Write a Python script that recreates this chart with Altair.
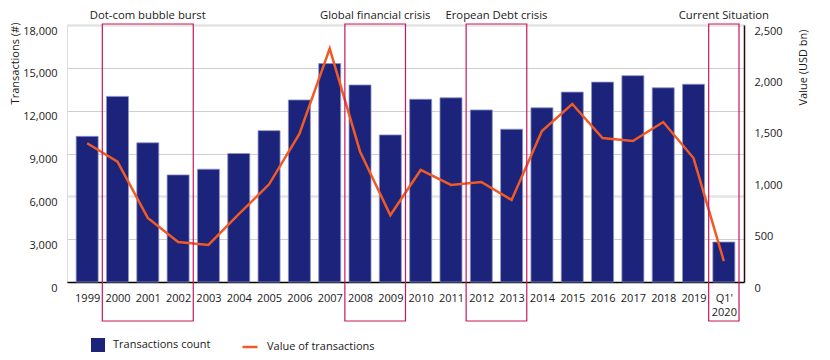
import altair as alt
import pandas as pd

categories = ["1999", "2000", "2001", "2002", "2003", "2004", "2005", "2006", "2007", "2008",
              "2009", "2010", "2011", "2012", "2013", "2014", "2015", "2016", "2017", "2018",
              "2019", "Q1' 2020"]
transactions = [10200, 13000, 9750, 7500, 7900, 9000, 10600, 12750, 15300, 13800,
                10300, 12800, 12900, 12050, 10700, 12200, 13300, 14000, 14450, 13600,
                13850, 2800]
values_usd = [1350, 1170, 623, 389, 360, 660, 950, 1440, 2270, 1270,
              650, 1090, 944, 973, 798, 1469, 1732, 1401, 1372, 1556,
              1206, 204]
crisis_labels = ["Dot-com bubble burst", "Global financial crisis", "Eropean Debt crisis", "Current Situation"]
crisis_start = ["2000", "2008", "2012", "Q1' 2020"]
crisis_end = ["2002", "2009", "2013", "Q1' 2020"]

FONT = "Open Sans"
NAVY = "#1b237a"
ORANGE = "#f15a24"
CRIMSON = "#c8175d"

df = pd.DataFrame({
    "i": list(range(len(categories))),
    "cat": categories,
    "count": transactions,
    "value": values_usd,
    "s1": "Transactions count",
    "s2": "Value of transactions",
})

idx = {c: k for k, c in enumerate(categories)}
boxes = pd.DataFrame({
    "label": crisis_labels,
    "x0": [idx[s] - 0.5 for s in crisis_start],
    "x1": [idx[e] + 0.5 for e in crisis_end],
})
boxes["mid"] = (boxes["x0"] + boxes["x1"]) / 2

label_js = "[" + ",".join("'" + c.replace("'", "\\'") + "'" for c in categories) + "]"
label_expr = (f"datum.value == {len(categories) - 1} ? [\"Q1'\", '2020'] : "
              f"{label_js}[datum.value]")

xscale = alt.Scale(domain=[-0.5, len(categories) - 0.5], nice=False, zero=False)
xaxis = alt.Axis(values=list(range(len(categories))), labelExpr=label_expr, title=None,
                 grid=False, ticks=False, domain=True, domainColor="#000000", domainWidth=1.5,
                 labelPadding=10, labelBaseline="top", labelFont=FONT, labelFontSize=11,
                 labelColor="#1a1a1a", labelLineHeight=14, labelOverlap=False,
                 labelBound=False, labelFlush=False)

grid_width = {"condition": {"test": "datum.value == 18000 || datum.value == 6000", "value": 2.5}, "value": 1}
grid_color = {"condition": {"test": "datum.value == 18000 || datum.value == 6000", "value": "#e4e4e4"}, "value": "#cfcfcf"}

bars = alt.Chart(df).mark_bar(width=22, stroke="#8e92c8", strokeWidth=0.8).encode(
    x=alt.X("i:Q", scale=xscale, axis=xaxis),
    y=alt.Y("count:Q", scale=alt.Scale(domain=[0, 18000], nice=False),
            axis=alt.Axis(values=list(range(0, 18001, 3000)), format=",d", title="Transactions (#)",
                          grid=True, gridColor=grid_color, gridWidth=grid_width, ticks=False, domain=False,
                          labelPadding=10, labelBaseline="top", labelFont=FONT, labelFontSize=11,
                          labelColor="#1a1a1a", labelOverlap=False, titleFont=FONT, titleFontSize=11,
                          titleFontWeight="normal", titleColor="#1a1a1a", titleAngle=270,
                          titleAlign="center", titleBaseline="middle", titleX=-52, titleY=38)),
    fill=alt.Fill("s1:N", scale=alt.Scale(domain=["Transactions count"], range=[NAVY]),
                  legend=alt.Legend(title=None, orient="none", legendX=24, legendY=313,
                                    symbolType="square", symbolSize=196, symbolStrokeWidth=0,
                                    labelFont=FONT, labelFontSize=11, labelColor="#1a1a1a",
                                    labelOffset=8)),
)

line = alt.Chart(df).mark_line(strokeWidth=2.5).encode(
    x=alt.X("i:Q", scale=xscale, axis=xaxis),
    y=alt.Y("value:Q", scale=alt.Scale(domain=[0, 2500], nice=False),
            axis=alt.Axis(orient="right", values=list(range(0, 2501, 500)), format=",d",
                          title="Value (USD bn)", grid=False, ticks=False, domain=True,
                          domainColor="#2a0a0a", domainWidth=1.5, labelOverlap=False,
                          labelPadding=10, labelBaseline="top", labelFont=FONT, labelFontSize=11,
                          labelColor="#1a1a1a", titleFont=FONT, titleFontSize=11,
                          titleFontWeight="normal", titleColor="#1a1a1a", titleAngle=270,
                          titleAlign="center", titleBaseline="middle", titleX=59, titleY=42)),
    stroke=alt.Stroke("s2:N", scale=alt.Scale(domain=["Value of transactions"], range=[ORANGE]),
                      legend=alt.Legend(title=None, orient="none", legendX=174, legendY=313,
                                        symbolType="stroke", symbolSize=225, symbolStrokeWidth=2.5,
                                        labelFont=FONT, labelFontSize=11, labelColor="#1a1a1a",
                                        labelOffset=8)),
)

rects = alt.Chart(boxes).mark_rect(fill=None, stroke=CRIMSON, strokeWidth=1.2).encode(
    x=alt.X("x0:Q", scale=xscale, axis=xaxis),
    x2="x1:Q",
    y=alt.value(-1),
    y2=alt.value(296),
)

texts = alt.Chart(boxes).mark_text(font=FONT, fontSize=11.3, color="#1a1a1a", baseline="middle").encode(
    x=alt.X("mid:Q", scale=xscale, axis=xaxis),
    y=alt.value(-9),
    text="label:N",
)

chart = alt.layer(bars, line, rects, texts).resolve_scale(
    y="independent", fill="independent", stroke="independent"
).properties(
    width=677, height=257,
    autosize=alt.AutoSizeParams(type="none"),
    padding={"left": 59, "top": 17, "right": 78, "bottom": 78},
).configure_view(stroke=None).configure_axisX(labelOverlap=False).configure(background="white")

chart.save("out.html", embed_options={"renderer": "svg", "actions": False})
